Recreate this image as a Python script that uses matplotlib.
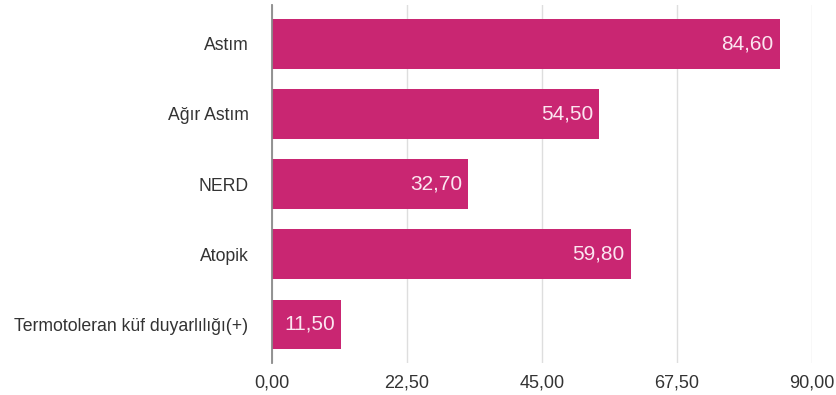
import matplotlib.pyplot as plt
from matplotlib.ticker import FuncFormatter, MultipleLocator

plt.rcParams['font.family'] = ['Liberation Sans', 'DejaVu Sans']

categories = ['Astım', 'Ağır Astım', 'NERD', 'Atopik', 'Termotoleran küf duyarlılığı(+)']
values = [84.60, 54.50, 32.70, 59.80, 11.50]

bar_color = '#c92672'


def tr_num(v, pos=None):
    return f'{v:.2f}'.replace('.', ',')


fig = plt.figure(figsize=(8.36, 3.95), dpi=100)
ax = fig.add_axes([0.3254, 0.081, 0.6459, 0.906])

y = range(len(categories))
bars = ax.barh(y, values, height=0.71, color=bar_color, zorder=3)

for b, v in zip(bars, values):
    ax.text(b.get_width() - 1.0, b.get_y() + b.get_height() / 2, tr_num(v),
            ha='right', va='center', color='#fbe6f0', fontsize=15, zorder=4)

ax.set_xlim(0, 90)
ax.set_ylim(4.55, -0.55)
ax.xaxis.set_major_locator(MultipleLocator(22.5))
ax.xaxis.set_major_formatter(FuncFormatter(tr_num))
ax.set_yticks(list(y))
ax.set_yticklabels(categories)

ax.grid(axis='x', color='#dedede', linewidth=1, zorder=0)
for s in ['top', 'right', 'bottom']:
    ax.spines[s].set_visible(False)
ax.spines['left'].set_color('#8a8a8a')
ax.spines['left'].set_linewidth(1.3)
ax.spines['left'].set_zorder(5)

ax.tick_params(axis='both', length=0, labelcolor='#333333')
ax.tick_params(axis='y', pad=17, labelsize=12.7)
ax.tick_params(axis='x', pad=8, labelsize=13)

fig.savefig('out.png', dpi=100)
